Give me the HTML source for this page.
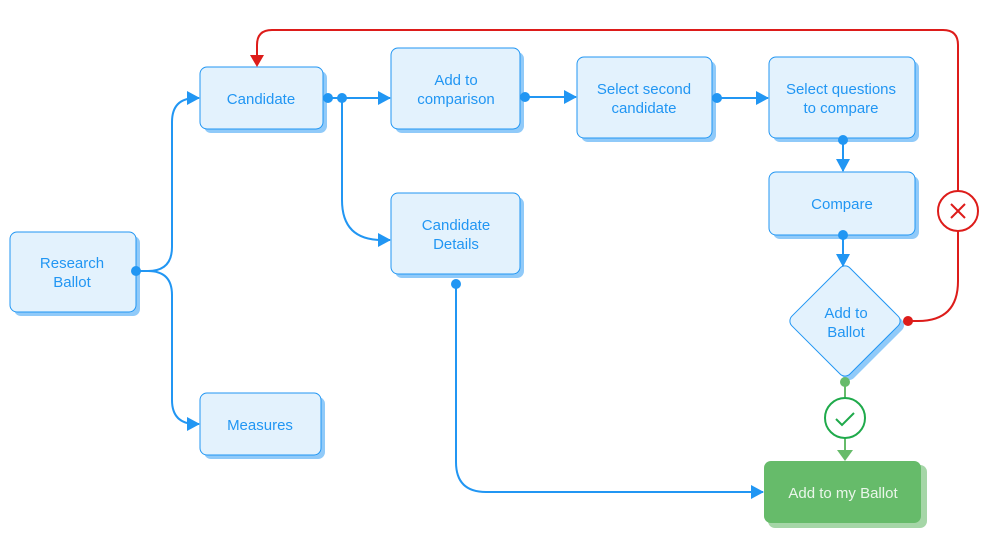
<!DOCTYPE html>
<html><head><meta charset="utf-8"><style>
body{margin:0;background:#fff;}
svg{display:block;font-family:"Liberation Sans",Roboto,sans-serif;}
</style></head><body>
<svg width="999" height="549" viewBox="0 0 999 549" xmlns="http://www.w3.org/2000/svg">
<defs>
<marker id="ab" markerWidth="13" markerHeight="14" refX="12" refY="7" orient="auto" markerUnits="userSpaceOnUse"><path d="M0,0 L13,7 L0,14 z" fill="#2196f3"/></marker>
</defs>
<g fill="#e3f2fd" stroke="#2196f3" stroke-width="1">
<rect x="14" y="236" width="126" height="80" rx="7" fill="#90caf9" stroke="none"/>
<rect x="10" y="232" width="126" height="80" rx="7"/>
<rect x="204" y="71" width="123" height="62" rx="7" fill="#90caf9" stroke="none"/>
<rect x="200" y="67" width="123" height="62" rx="7"/>
<rect x="395" y="52" width="129" height="81" rx="7" fill="#90caf9" stroke="none"/>
<rect x="391" y="48" width="129" height="81" rx="7"/>
<rect x="581" y="61" width="135" height="81" rx="7" fill="#90caf9" stroke="none"/>
<rect x="577" y="57" width="135" height="81" rx="7"/>
<rect x="773" y="61" width="146" height="81" rx="7" fill="#90caf9" stroke="none"/>
<rect x="769" y="57" width="146" height="81" rx="7"/>
<rect x="773" y="176" width="146" height="63" rx="7" fill="#90caf9" stroke="none"/>
<rect x="769" y="172" width="146" height="63" rx="7"/>
<rect x="395" y="197" width="129" height="81" rx="7" fill="#90caf9" stroke="none"/>
<rect x="391" y="193" width="129" height="81" rx="7"/>
<rect x="204" y="397" width="121" height="62" rx="7" fill="#90caf9" stroke="none"/>
<rect x="200" y="393" width="121" height="62" rx="7"/>
<g transform="translate(849,325) rotate(45)"><rect x="-41" y="-41" width="82" height="82" rx="7" fill="#90caf9" stroke="none"/></g>
<g transform="translate(845,321) rotate(45)"><rect x="-41" y="-41" width="82" height="82" rx="7"/></g>
</g>
<rect x="768" y="465" width="159" height="63" rx="7" fill="#a5d6a7"/>
<rect x="764" y="461" width="157" height="62" rx="7" fill="#66bb6a"/>
<g fill="none" stroke="#2196f3" stroke-width="2">
<path d="M136,271 H148 Q172,271 172,247 V122 Q172,98 196,98 H199" marker-end="url(#ab)"/>
<path d="M136,271 H148 Q172,271 172,295 V400 Q172,424 196,424 H199" marker-end="url(#ab)"/>
<path d="M328,98 H390" marker-end="url(#ab)"/>
<path d="M342,98 V200 Q342,240 382,240 H390" marker-end="url(#ab)"/>
<path d="M525,97 H576" marker-end="url(#ab)"/>
<path d="M717,98 H768" marker-end="url(#ab)"/>
<path d="M843,138 V171" marker-end="url(#ab)"/>
<path d="M843,235 V266" marker-end="url(#ab)"/>
<path d="M456,284 V462 Q456,492 486,492 H763" marker-end="url(#ab)"/>
</g>
<g fill="#2196f3">
<circle cx="136" cy="271" r="5"/><circle cx="328" cy="98" r="5"/><circle cx="342" cy="98" r="5"/>
<circle cx="525" cy="97" r="5"/><circle cx="717" cy="98" r="5"/><circle cx="843" cy="140" r="5"/>
<circle cx="843" cy="235" r="5"/><circle cx="456" cy="284" r="5"/>
</g>
<path d="M908,321 H918 Q958,321 958,281 V45 Q958,30 943,30 H272 Q257,30 257,45 V56" fill="none" stroke="#dd1c1a" stroke-width="2"/>
<path d="M250,55 L264,55 L257,67 z" fill="#dd1c1a"/>
<circle cx="908" cy="321" r="5" fill="#dd1c1a"/>
<circle cx="958" cy="211" r="20" fill="#fff" stroke="#dd1c1a" stroke-width="2"/>
<path d="M951,204 L965,218 M965,204 L951,218" stroke="#dd1c1a" stroke-width="2"/>
<path d="M845,382 V452" stroke="#66bb6a" stroke-width="2"/>
<path d="M837,450 L853,450 L845,461 z" fill="#66bb6a"/>
<circle cx="845" cy="382" r="5" fill="#66bb6a"/>
<circle cx="845" cy="418" r="20" fill="#fff" stroke="#1faa4b" stroke-width="2"/>
<path d="M836,419 L842,425 L854,413" fill="none" stroke="#1faa4b" stroke-width="2"/>
<g fill="#2196f3" font-size="15" text-anchor="middle">
<text x="72" y="268">Research</text><text x="72" y="287">Ballot</text>
<text x="261" y="104">Candidate</text>
<text x="456" y="85">Add to</text><text x="456" y="104">comparison</text>
<text x="644" y="94">Select second</text><text x="644" y="113">candidate</text>
<text x="841" y="94">Select questions</text><text x="841" y="113">to compare</text>
<text x="842" y="209">Compare</text>
<text x="456" y="230">Candidate</text><text x="456" y="249">Details</text>
<text x="260" y="430">Measures</text>
<text x="846" y="318">Add to</text><text x="846" y="337">Ballot</text>
</g>
<text x="843" y="498" fill="#eaf6ea" font-size="15" text-anchor="middle">Add to my Ballot</text>
</svg>
</body></html>
